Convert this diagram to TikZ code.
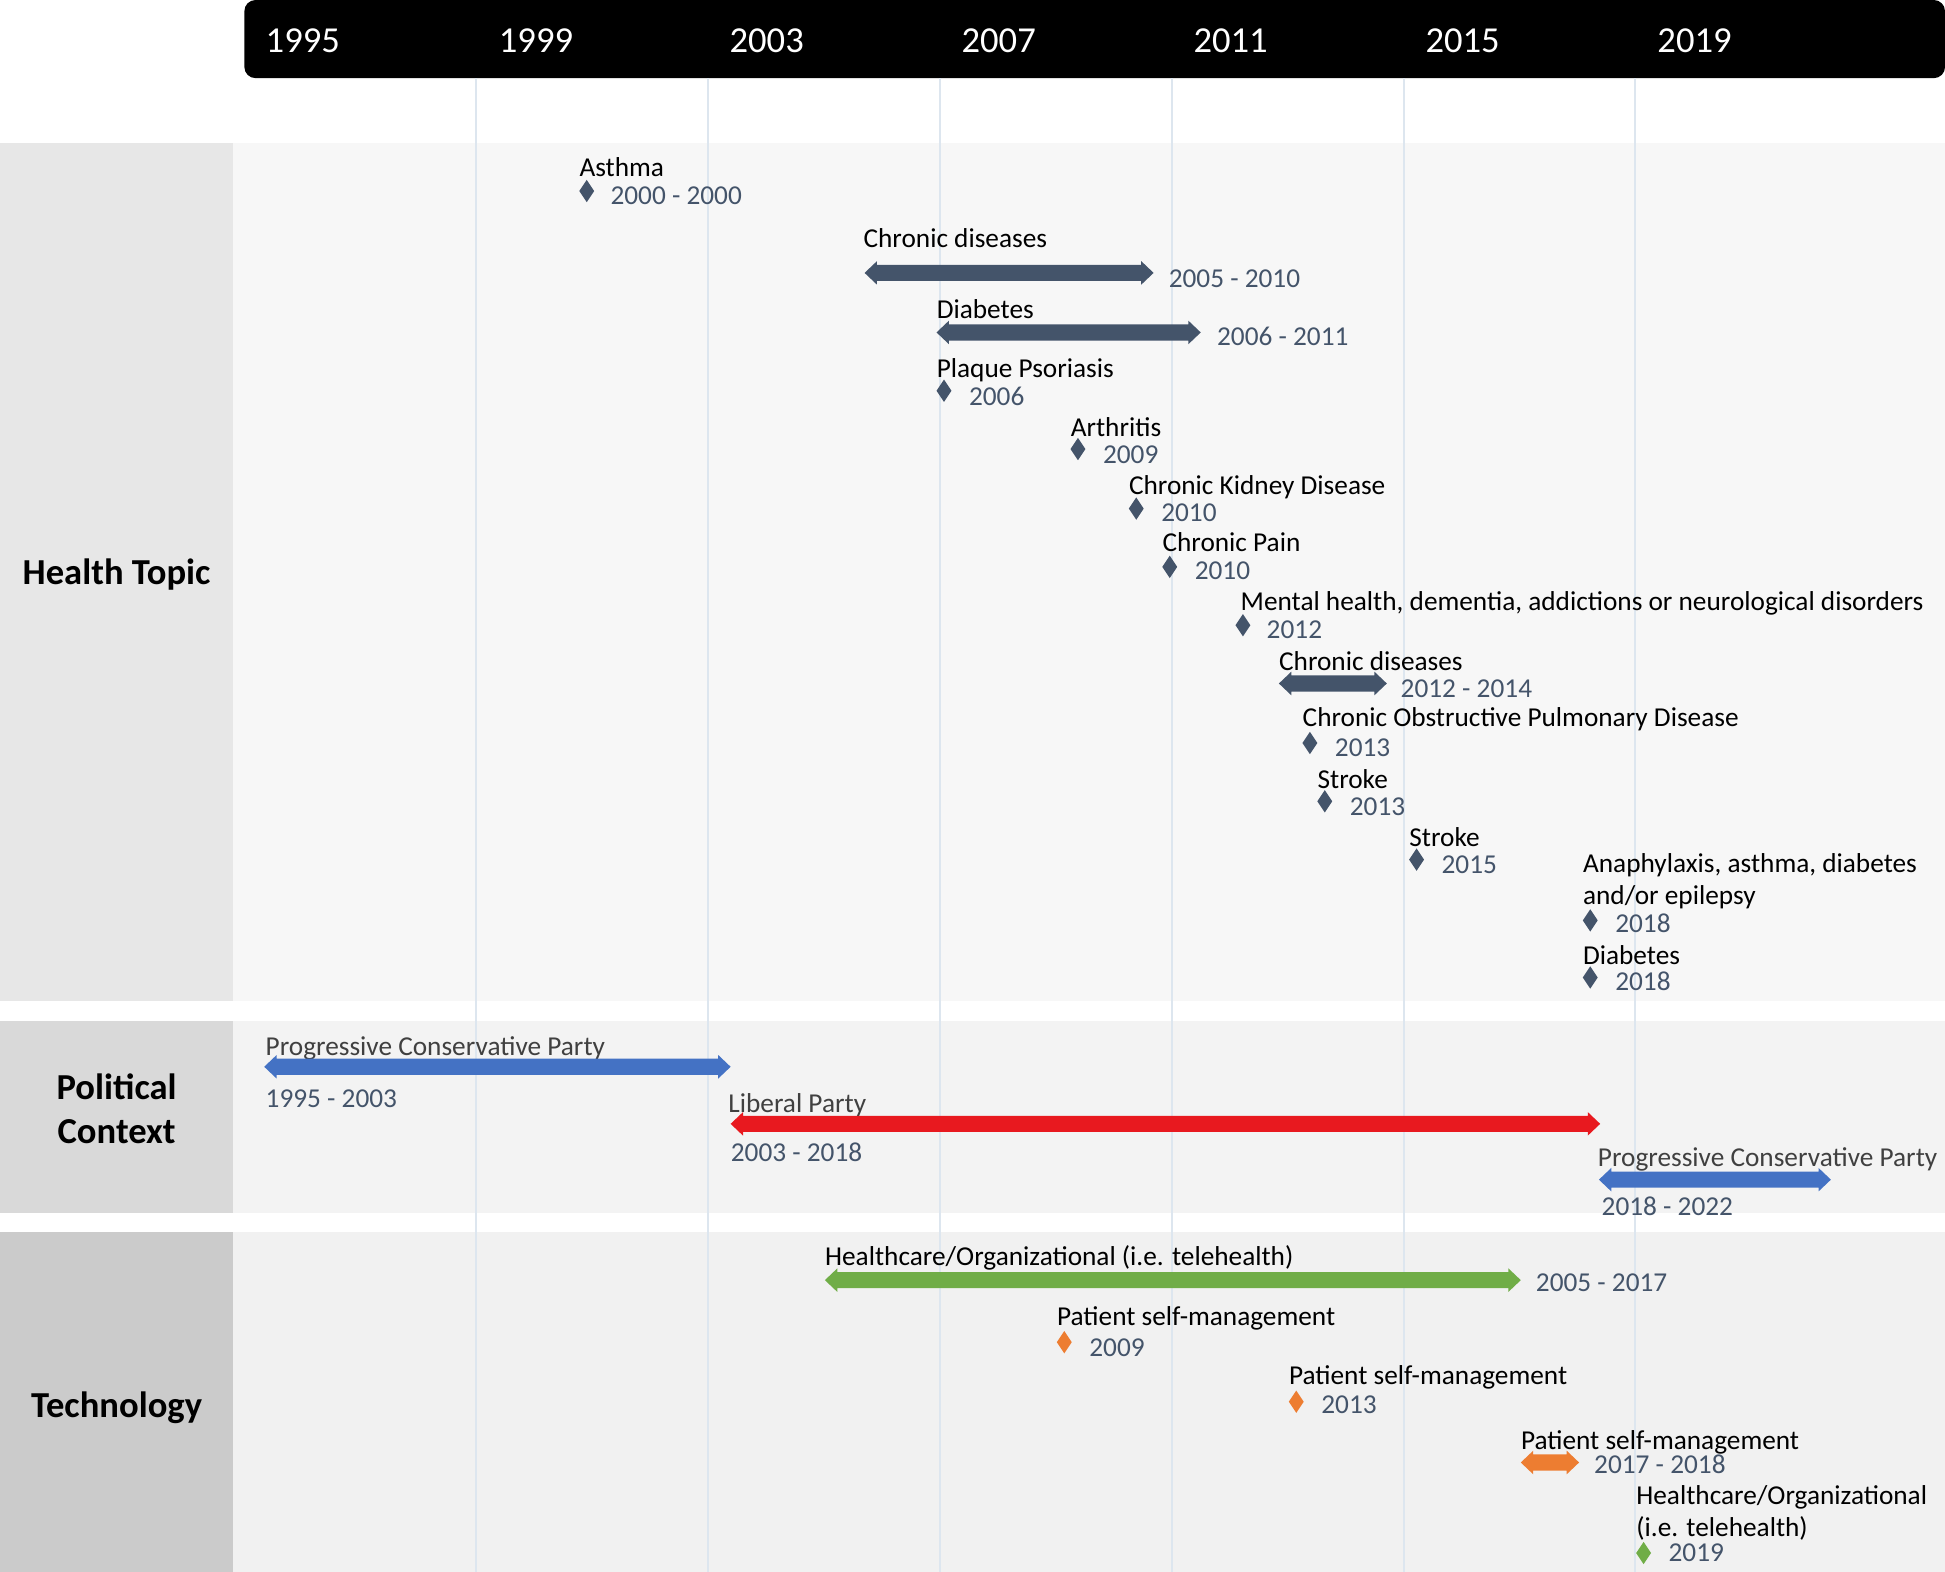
\documentclass[tikz,border=0pt]{standalone}
\usepackage{fontspec}
\setmainfont{Carlito}
\definecolor{slate}{HTML}{44546A}
\definecolor{pblue}{HTML}{4472C4}
\definecolor{pred}{HTML}{E8191F}
\definecolor{pgreen}{HTML}{70AD47}
\definecolor{porange}{HTML}{ED7D31}
\definecolor{gridc}{HTML}{DDE6EF}
\definecolor{ptext}{HTML}{404040}
\definecolor{hleft}{HTML}{E7E7E7}
\definecolor{hright}{HTML}{F7F7F7}
\definecolor{pleft}{HTML}{D9D9D9}
\definecolor{pright}{HTML}{F3F3F3}
\definecolor{tleft}{HTML}{CBCBCB}
\definecolor{tright}{HTML}{F1F1F1}
\newcommand\tlbar[4]{\fill[#4] (#1,#3) -- (#1+10,#3-9.5) -- (#1+10,#3-6.5) -- (#2-10,#3-6.5) -- (#2-10,#3-9.5) -- (#2,#3) -- (#2-10,#3+9.5) -- (#2-10,#3+6.5) -- (#1+10,#3+6.5) -- (#1+10,#3+9.5) -- cycle;}
\newcommand\tldia[3]{\fill[#3] (#1,#2-9) -- (#1+6,#2) -- (#1,#2+9) -- (#1-6,#2) -- cycle;}
\begin{document}
\begin{tikzpicture}[x=1pt,y=-1pt,
  title/.style={anchor=west,inner sep=0pt,font=\fontsize{22}{27}\selectfont,text=black,text height=19pt,text depth=4pt},
  ptitle/.style={title,text=ptext},
  date/.style={anchor=west,inner sep=0pt,font=\fontsize{22}{27}\selectfont,text=slate,text height=19pt,text depth=4pt},
  year/.style={anchor=west,inner sep=0pt,font=\fontsize{29.5}{33}\selectfont,text=white,text height=20pt,text depth=1pt},
  rowlab/.style={align=center,inner sep=0pt,font=\fontsize{29.5}{35}\bfseries\selectfont,text=black},
  gridline/.style={draw=gridc,line width=1.5pt}]
\useasboundingbox (0,0) rectangle (1568,1267);
\begin{scope}
\clip (0,0) rectangle (1568,1267);
% bands
\fill[hleft] (0,115) rectangle (188,807);
\fill[hright] (188,115) rectangle (1568,807);
\fill[pleft] (0,823) rectangle (188,978);
\fill[pright] (188,823) rectangle (1568,978);
\fill[tleft] (0,993) rectangle (188,1267);
\fill[tright] (188,993) rectangle (1568,1267);
% header
\fill[black,rounded corners=9pt] (197,0) rectangle (1568,63);
\end{scope}
\foreach \gx in {384,571,758,945,1132,1318} \draw[gridline] (\gx,63) -- (\gx,1267);
\foreach \yx/\yl in {214/1995,402/1999,588/2003,775/2007,962/2011,1149/2015,1336/2019}
  \node[year] (y\yl) at (\yx,33) {\yl};
% row labels
\node[rowlab] (lh) at (94,463) {Health Topic};
\node[rowlab] (lp) at (94,894) {Political\\Context};
\node[rowlab] (lt) at (94,1135) {Technology};
% Health topics
\node[title] (h1) at (467,135) {Asthma};
\tldia{473}{154}{slate}
\node[date] (h1d) at (492,157) {2000 - 2000};
\node[title] (h2) at (696,192) {Chronic diseases};
\tlbar{697}{930}{220}{slate}
\node[date] (h2d) at (942,224) {2005 - 2010};
\node[title] (h3) at (755,249) {Diabetes};
\tlbar{755}{968}{268}{slate}
\node[date] (h3d) at (981,271) {2006 - 2011};
\node[title] (h4) at (755,297) {Plaque Psoriasis};
\tldia{761}{315}{slate}
\node[date] (h4d) at (781,319) {2006};
\node[title] (h5) at (863,344) {Arthritis};
\tldia{869}{362}{slate}
\node[date] (h5d) at (889,366) {2009};
\node[title] (h6) at (910,391) {Chronic Kidney Disease};
\tldia{916}{410}{slate}
\node[date] (h6d) at (936,413) {2010};
\node[title] (h7) at (937,437) {Chronic Pain};
\tldia{943}{457}{slate}
\node[date] (h7d) at (963,460) {2010};
\node[title] (h8) at (1000,485) {Mental health, dementia, addictions or neurological disorders};
\tldia{1002}{504}{slate}
\node[date] (h8d) at (1021,507) {2012};
\node[title] (h9) at (1031,533) {Chronic diseases};
\tlbar{1031}{1118}{551}{slate}
\node[date] (h9d) at (1129,555) {2012 - 2014};
\node[title] (h10) at (1050,578) {Chronic Obstructive Pulmonary Disease};
\tldia{1056}{599}{slate}
\node[date] (h10d) at (1076,602) {2013};
\node[title] (h11) at (1062,628) {Stroke};
\tldia{1068}{646}{slate}
\node[date] (h11d) at (1088,650) {2013};
\node[title] (h12) at (1136,675) {Stroke};
\tldia{1142}{693}{slate}
\node[date] (h12d) at (1162,697) {2015};
\node[title] (h13a) at (1276,696) {Anaphylaxis, asthma, diabetes};
\node[title] (h13b) at (1276,722) {and/or epilepsy};
\tldia{1282}{742}{slate}
\node[date] (h13d) at (1302,744) {2018};
\node[title] (h14) at (1276,770) {Diabetes};
\tldia{1282}{788}{slate}
\node[date] (h14d) at (1302,791) {2018};
% Political
\node[ptitle] (p1) at (214,843) {Progressive Conservative Party};
\tlbar{213}{589}{860}{pblue}
\node[date] (p1d) at (214,885) {1995 - 2003};
\node[ptitle] (p2) at (587,889) {Liberal Party};
\tlbar{589}{1290}{906}{pred}
\node[date] (p2d) at (589,929) {2003 - 2018};
\node[ptitle] (p3) at (1288,933) {Progressive Conservative Party};
\tlbar{1289}{1476}{951}{pblue}
\node[date] (p3d) at (1291,972) {2018 - 2022};
% Technology
\node[title] (t1) at (665,1013) {Healthcare/Organizational (i.e. telehealth)};
\tlbar{665}{1226}{1032}{pgreen}
\node[date] (t1d) at (1238,1034) {2005 - 2017};
\node[title] (t2) at (852,1061) {Patient self-management};
\tldia{858}{1082}{porange}
\node[date] (t2d) at (878,1086) {2009};
\node[title] (t3) at (1039,1109) {Patient self-management};
\tldia{1045}{1130}{porange}
\node[date] (t3d) at (1065,1132) {2013};
\node[title] (t4) at (1226,1161) {Patient self-management};
\tlbar{1226}{1273}{1179}{porange}
\node[date] (t4d) at (1285,1180) {2017 - 2018};
\node[title] (t5a) at (1319,1205) {Healthcare/Organizational};
\node[title] (t5b) at (1319,1231) {(i.e. telehealth)};
\tldia{1325}{1252}{pgreen}
\node[date] (t5d) at (1345,1251) {2019};
\end{tikzpicture}
\end{document}
